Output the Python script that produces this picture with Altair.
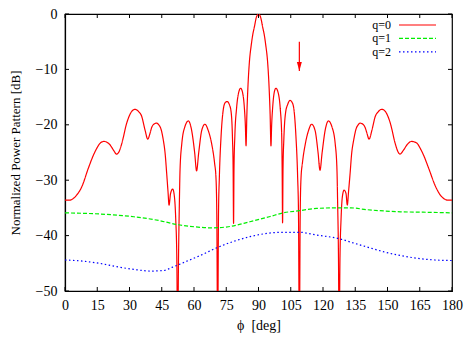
import altair as alt
import pandas as pd

# ---- data ----
phi_q0 = [0, 2.0, 3.5, 5.4, 7.8, 10.8, 13.2, 14.7, 16.4, 18.1, 20.9, 22.6, 24.0, 25.2, 26.4,
          28.7, 31.0, 32.6, 34.2, 35.7, 37.2, 38.5, 39.5, 40.3, 41.3, 42.6, 43.8, 44.5, 45.7,
          46.6, 47.3, 47.9, 48.4, 49.1, 50.1, 50.9, 51.5, 52.0, 52.4, 52.8, 53.2, 53.5, 54.3,
          55.8, 57.4, 58.9, 60.3, 61.2, 62.2, 63.6, 65.1, 66.6, 68.2, 69.6, 70.2, 70.6, 71.0,
          71.4, 71.8, 72.6, 73.6, 74.5, 75.4, 76.5, 77.3, 77.9, 78.2, 78.4, 78.6, 79.0, 79.8,
          80.7, 81.7, 82.6, 83.4, 83.9, 84.2, 84.6, 85.1, 85.7, 86.7, 87.3, 88.1, 89.0, 90.0,
          91.0, 91.9, 92.7, 93.3, 94.3, 94.9, 95.4, 95.8, 96.1, 96.6, 97.3, 98.1, 99.2, 100.1,
          100.8, 101.0, 101.2, 101.4, 101.8, 102.6, 103.5, 104.7, 105.7, 106.5, 107.4, 108.2,
          108.6, 109.0, 109.4, 109.8, 110.4, 111.8, 113.3, 114.7, 116.3, 117.7, 118.6, 119.6,
          121.0, 122.5, 124.1, 125.7, 126.5, 126.8, 127.2, 127.5, 127.9, 128.4, 129.0, 129.8,
          130.7, 131.3, 131.9, 132.6, 133.3, 134.3, 135.5, 136.2, 137.2, 138.6, 139.6, 140.5,
          141.4, 142.8, 144.3, 145.8, 147.3, 149.0, 151.3, 153.6, 154.8, 155.8, 157.4, 159.1,
          161.2, 163.6, 165.3, 166.8, 169.2, 172.2, 174.6, 176.5, 178.0, 180.0]
db_q0 = [-33.6, -33.6, -33.4, -32.7, -31.2, -27.9, -25.5, -24.3, -23.3, -23.0, -23.6, -24.6, -25.3, -24.8, -23.4,
         -19.7, -17.6, -17.2, -17.6, -18.5, -20.9, -22.6, -21.6, -20.5, -19.9, -19.7, -20.1, -20.6, -22.7,
         -25.3, -28.8, -32.0, -34.5, -32.4, -31.6, -33.0, -37.0, -44.0, -60.0, -44.0, -34.0, -28.2, -23.5,
         -20.3, -19.3, -21.0, -25.0, -28.3, -25.0, -21.0, -19.9, -21.0, -23.4, -27.0, -29.4, -36.0, -60.0,
         -36.0, -29.4, -22.0, -17.3, -16.0, -15.8, -16.4, -17.8, -22.5, -28.0, -37.8, -28.0, -22.0, -17.0,
         -14.3, -13.4, -14.2, -16.8, -20.2, -23.8, -18.0, -13.0, -9.0, -5.4, -3.8, -2.3, -0.6, 0.0,
         -0.6, -2.3, -3.8, -5.4, -9.0, -13.0, -18.0, -23.8, -20.2, -16.8, -14.2, -13.4, -14.3, -17.0,
         -22.0, -28.0, -37.7, -28.0, -22.5, -17.8, -16.4, -15.6, -16.0, -17.3, -22.0, -29.4,
         -36.0, -60.0, -36.0, -29.4, -27.0, -23.4, -21.0, -19.9, -21.0, -25.0, -28.2, -25.0,
         -21.0, -19.3, -20.3, -23.5, -28.2, -34.0, -44.0, -60.0, -44.0, -37.0, -33.0, -31.8,
         -32.4, -34.5, -32.0, -28.8, -25.3, -22.7, -20.6, -20.1, -19.7, -19.9, -20.5, -21.6,
         -22.6, -20.9, -18.5, -17.6, -17.2, -17.6, -19.7, -23.4, -24.8, -25.3, -24.6, -23.6,
         -23.0, -23.3, -24.3, -25.5, -27.9, -31.0, -32.7, -33.4, -33.6, -33.6]

phi_q1 = [0, 16, 32, 44, 52, 60, 68, 76, 86, 95, 101.5, 109, 117, 125, 133, 140, 156, 170, 180]
db_q1 = [-35.9, -36.1, -36.6, -37.3, -38.0, -38.4, -38.6, -38.4, -37.5, -36.6, -35.9, -35.5,
         -35.1, -35.0, -35.0, -35.3, -35.7, -35.8, -35.9]

phi_q2 = [0, 8, 16, 24, 32, 40, 46, 50, 58, 64, 70, 78, 86, 94, 101, 109, 117, 128, 133, 140,
          148, 156, 164, 172, 180]
db_q2 = [-44.4, -44.6, -45.0, -45.6, -46.1, -46.4, -46.3, -45.7, -44.4, -43.4, -42.3, -41.1,
         -40.2, -39.6, -39.4, -39.4, -39.9, -40.6, -41.2, -42.0, -42.9, -43.6, -44.1, -44.4, -44.5]

series_names = ["q=0", "q=1", "q=2"]
series_colors = ["#ff0000", "#00ee00", "#0000ff"]
series_dash = [[1, 0], [4, 2], [1.5, 2.5]]

x_ticks = [0, 15, 30, 45, 60, 75, 90, 105, 120, 135, 150, 165, 180]
y_ticks = [0, -10, -20, -30, -40, -50]

arrow_phi = [109.0]
arrow_from = [-5.0]
arrow_to = [-10.3]

x_title = "ϕ\u2002[deg]"
y_title = "Normalized Power Pattern [dB]"

# ---- chart ----
W, H = 387, 277
FONT = "Liberation Serif"
xs = alt.Scale(domain=[0, 180], nice=False, zero=False)
ys = alt.Scale(domain=[-50, 0], nice=False, zero=False)

axis_common = dict(ticks=False, grid=False, domain=True, domainColor="black",
                   domainWidth=1.2, labelFont=FONT, labelFontSize=14, labelColor="black",
                   titleFont=FONT, titleColor="black", titleFontWeight="normal",
                   labelOverlap=False)
X_AXIS = alt.Axis(values=x_ticks, title=x_title, labelPadding=7, titlePadding=6,
                  labelFlush=False, titleFontSize=14, **axis_common)
Y_AXIS = alt.Axis(values=y_ticks, title=y_title, labelPadding=8, titlePadding=13,
                  titleFontSize=13, **axis_common)


def X(field="phi"):
    return alt.X(f"{field}:Q", scale=xs, axis=X_AXIS)


def Y(field="db"):
    return alt.Y(f"{field}:Q", scale=ys, axis=Y_AXIS)


series_data = [(phi_q0, db_q0), (phi_q1, db_q1), (phi_q2, db_q2)]
layers = []
for i, (p, d) in enumerate(series_data):
    df = pd.DataFrame({"phi": p, "db": d})
    layers.append(
        alt.Chart(df).mark_line(color=series_colors[i], strokeWidth=1.2,
                                strokeDash=series_dash[i], interpolate="monotone",
                                clip=True)
        .encode(x=X(), y=Y())
    )

# inward ticks on all four sides
xt = pd.DataFrame({"phi": x_ticks})
yt = pd.DataFrame({"db": y_ticks})
tick_style = dict(color="black", strokeWidth=1)
layers.append(alt.Chart(xt).mark_rule(**tick_style).encode(
    x=X(), y=alt.value(H), y2=alt.value(H - 4)))
layers.append(alt.Chart(xt).mark_rule(**tick_style).encode(
    x=X(), y=alt.value(0), y2=alt.value(4)))
layers.append(alt.Chart(yt).mark_rule(**tick_style).encode(
    y=Y(), x=alt.value(0), x2=alt.value(4)))
layers.append(alt.Chart(yt).mark_rule(**tick_style).encode(
    y=Y(), x=alt.value(W - 4), x2=alt.value(W)))

# arrow
adf = pd.DataFrame({"phi": arrow_phi, "y0": arrow_from, "y1": arrow_to})
layers.append(alt.Chart(adf).mark_rule(color="#ff0000", strokeWidth=1.2).encode(
    x=X(), y=Y("y0"), y2=alt.Y2("y1:Q")))
layers.append(alt.Chart(adf).mark_point(shape="M-0.55,-1L0,1L0.55,-1Z", filled=True,
                                        color="#ff0000", size=81, opacity=1).encode(
    x=X(), y=Y("y1"), yOffset=alt.value(-4.5)))

# key (gnuplot style: label then line sample)
for i, name in enumerate(series_names):
    ldf = pd.DataFrame({"name": [name]})
    yy = 11 + i * 13.4
    layers.append(alt.Chart(ldf).mark_text(align="right", baseline="middle", font=FONT,
                                           fontSize=12, color="black").encode(
        text="name:N", x=alt.value(326), y=alt.value(yy)))
    layers.append(alt.Chart(ldf).mark_rule(color=series_colors[i], strokeWidth=1.2,
                                           strokeDash=series_dash[i]).encode(
        x=alt.value(334), x2=alt.value(371), y=alt.value(yy)))

chart = alt.layer(*layers).properties(
    width=W, height=H,
    autosize=alt.AutoSizeParams(type="none"),
    padding={"left": 65, "top": 14, "right": 14, "bottom": 49},
    background="white",
).configure_view(stroke="black", strokeWidth=1.2)

chart.save("out.html", embed_options={"renderer": "svg", "actions": False})
